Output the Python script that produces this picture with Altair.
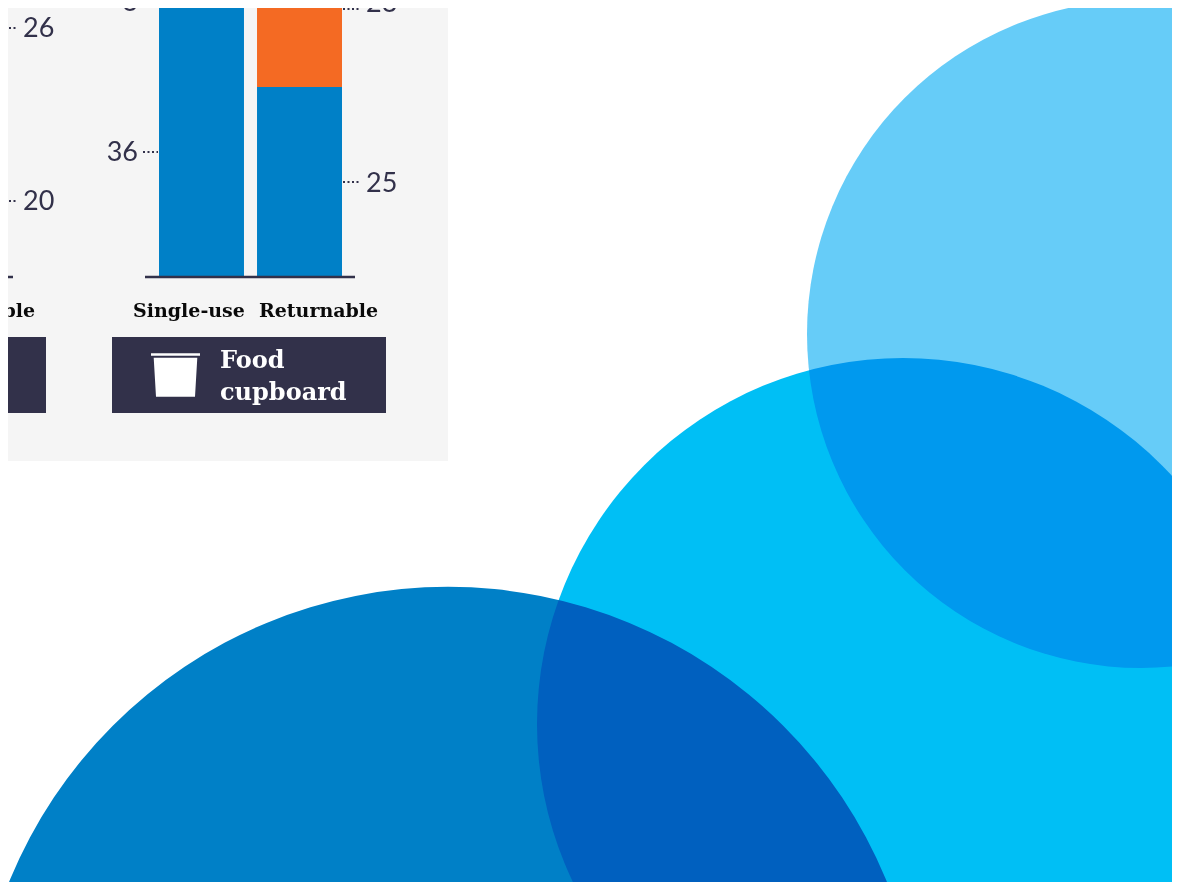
import altair as alt
import pandas as pd

# ---- values ----
containers = ["Single-use", "Returnable"]
segments = ["Base", "Base", "Mid", "Top"]
segment_containers = ["Single-use", "Returnable", "Returnable", "Single-use"]
segment_values = [35.8, 25.1, 23, 3]
segment_order = [1, 1, 2, 2]
segment_domain = ["Base", "Mid", "Top"]
segment_colors = ["#0080c7", "#f46a23", "#66647a"]

number_labels = ["36", "25", "23", "3", "26", "20"]
axis_labels = ["Single-use", "Returnable", "Returnable"]
panel_title = ["Food", "cupboard"]

DARK = "#32314a"
SLAB = "DejaVu Serif"
NUM = "Lato"
PAGE_OFFSET = 8
W, H = 1164, 874

# ---- layout (page pixels) ----
px_x = alt.Scale(domain=[PAGE_OFFSET, PAGE_OFFSET + W], range=[0, W])
px_y = alt.Scale(domain=[PAGE_OFFSET, PAGE_OFFSET + H], range=[0, H])
X = lambda f="x": alt.X(f"{f}:Q", scale=px_x, axis=None)
Y = lambda f="y": alt.Y(f"{f}:Q", scale=px_y, axis=None)


def rect(x0, x1, y0, y1, color):
    d = pd.DataFrame({"x": [x0], "x1": [x1], "y": [y0], "y1": [y1]})
    return alt.Chart(d).mark_rect(color=color).encode(
        x=X(), x2=alt.X2("x1:Q"), y=Y(), y2=alt.Y2("y1:Q"))


def rule(x0, x1, y, color, width, dash=None):
    d = pd.DataFrame({"x": [x0], "x1": [x1], "y": [y]})
    kw = {"strokeDash": dash} if dash else {}
    return alt.Chart(d).mark_rule(color=color, strokeWidth=width, **kw).encode(
        x=X(), x2=alt.X2("x1:Q"), y=Y())


def text(label, x, y, font, size, color, align="left", weight="normal"):
    d = pd.DataFrame({"x": [x], "y": [y], "t": [label]})
    return alt.Chart(d).mark_text(
        font=font, fontSize=size, color=color, align=align,
        baseline="middle", fontWeight=weight
    ).encode(x=X(), y=Y(), text="t:N")


# ---- bars ----
bars_df = pd.DataFrame({
    "container": segment_containers, "segment": segments,
    "value": segment_values, "order": segment_order,
})
bars = alt.Chart(bars_df).mark_bar(clip=True).encode(
    x=alt.X("container:N", axis=None,
            scale=alt.Scale(domain=containers, range=[151, 334],
                            paddingInner=0.133, paddingOuter=0)),
    y=alt.Y("value:Q", axis=None, stack="zero",
            scale=alt.Scale(domain=[0, 36], range=[269, 269 - 36 * 7.57], nice=False, zero=True)),
    color=alt.Color("segment:N", legend=None,
                    scale=alt.Scale(domain=segment_domain, range=segment_colors)),
    order=alt.Order("order:Q"),
)

# ---- circles ----
circles_df = pd.DataFrame({
    "x": [448, 903, 1141], "y": [1061, 724, 334], "r": [474, 366, 334],
    "c": ["#0080c7", "#00bff5", "#66ccf8"],
})
circles_df["s"] = (2 * circles_df["r"]) ** 2
circles = alt.Chart(circles_df).mark_circle(opacity=1, blend="multiply").encode(
    x=X(), y=Y(),
    size=alt.Size("s:Q", scale=None, legend=None),
    color=alt.Color("c:N", scale=None),
)

# ---- cup icon ----
CUP = ("M-0.98,-0.868L0.98,-0.868L0.98,-0.772L-0.98,-0.772Z"
       "M-0.872,-0.692L0.872,-0.692L0.78,0.868L-0.78,0.868Z")
cup = alt.Chart(pd.DataFrame({"x": [175.5], "y": [375]})).mark_point(
    shape=CUP, size=2500, filled=True, fill="white", opacity=1
).encode(x=X(), y=Y())

layers = [
    rect(0, 448, 0, 461, "#f5f5f5"),
    bars,
    rule(145, 355, 277, DARK, 2.5),
    rule(0, 13, 277, DARK, 2.5),
    rect(0, 46, 337, 413, DARK),
    rect(112, 386, 337, 413, DARK),
    cup,
    rule(143, 158, 152, DARK, 2, [2, 2.5]),
    rule(343, 361, 182, DARK, 2, [2, 2.5]),
    rule(343, 361, 9, DARK, 2, [2, 2.5]),
    rule(0, 18, 28, DARK, 2, [2, 2.5]),
    rule(0, 18, 201, DARK, 2, [2, 2.5]),
    text(number_labels[0], 138, 153, NUM, 27, DARK, "right"),
    text(number_labels[1], 366, 183.5, NUM, 27, DARK),
    text(number_labels[2], 366, 4, NUM, 27, DARK),
    text(number_labels[3], 138, 3, NUM, 27, DARK, "right"),
    text(number_labels[4], 23, 29, NUM, 27, DARK),
    text(number_labels[5], 23, 202, NUM, 27, DARK),
    text(axis_labels[0], 189, 311, SLAB, 19, "#0a0a0a", "center", "bold"),
    text(axis_labels[1], 318.5, 311, SLAB, 19, "#0a0a0a", "center", "bold"),
    text(axis_labels[2], 35, 311, SLAB, 19, "#0a0a0a", "right", "bold"),
    text(panel_title[0], 220, 361, SLAB, 24, "white", "left", "bold"),
    text(panel_title[1], 220, 392.5, SLAB, 24, "white", "left", "bold"),
    circles,
]

chart = alt.layer(*layers).resolve_scale(
    x="independent", y="independent", color="independent", size="independent"
).properties(
    width=W, height=H, padding=0,
    autosize=alt.AutoSizeParams(type="none"),
).configure_view(stroke=None)

chart.save("out.html", embed_options={"renderer": "svg", "actions": False})
